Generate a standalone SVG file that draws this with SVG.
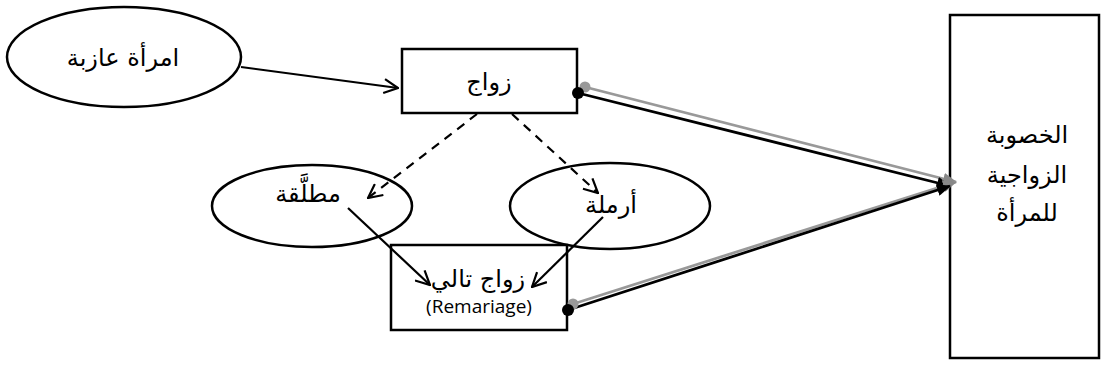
<svg xmlns="http://www.w3.org/2000/svg" width="1102" height="372" viewBox="0 0 1102 372">
  <style>
    .shape { fill: #fff; stroke: #000; stroke-width: 2.5; }
    .ar { font-family: "DejaVu Sans", "Noto Sans", sans-serif; font-size: 24px; fill: #000; text-anchor: middle; }
    .lat { font-family: "Open Sans", "Lato", sans-serif; font-size: 19px; fill: #000; text-anchor: middle; }
    .solid { stroke: #000; stroke-width: 2.2; fill: none; marker-end: url(#open); }
    .dash { stroke: #000; stroke-width: 2.2; fill: none; stroke-dasharray: 9 7; marker-end: url(#open); }
    .link-k { stroke: #000; stroke-width: 2.8; fill: none; marker-end: url(#tipK); }
    .link-g { stroke: #999; stroke-width: 2.8; fill: none; marker-end: url(#tipG); }
  </style>
  <defs>
    <marker id="open" viewBox="0 0 16 16" refX="15" refY="8" markerWidth="16" markerHeight="16" markerUnits="userSpaceOnUse" orient="auto">
      <path d="M1,1 L15,8 L1,15" fill="none" stroke="#000" stroke-width="2.2"/>
    </marker>
    <marker id="tipK" viewBox="0 0 14 12" refX="13" refY="6" markerWidth="14" markerHeight="12" markerUnits="userSpaceOnUse" orient="auto">
      <path d="M0,0 L14,6 L0,12 Z" fill="#000"/>
    </marker>
    <marker id="tipG" viewBox="0 0 14 12" refX="13" refY="6" markerWidth="14" markerHeight="12" markerUnits="userSpaceOnUse" orient="auto">
      <path d="M0,0 L14,6 L0,12 Z" fill="#888"/>
    </marker>
  </defs>

  <g id="single-woman">
    <ellipse class="shape" cx="124" cy="57" rx="117" ry="50"/>
    <text class="ar" x="123" y="66">امرأة عازبة</text>
  </g>

  <g id="marriage">
    <rect class="shape" x="402" y="49" width="175" height="64"/>
    <text class="ar" x="489" y="90">زواج</text>
  </g>

  <g id="divorced">
    <ellipse class="shape" cx="312" cy="206" rx="100" ry="41"/>
    <text class="ar" x="308" y="202">مطلَّقة</text>
  </g>

  <g id="widow">
    <ellipse class="shape" cx="610" cy="206" rx="100" ry="43"/>
    <text class="ar" x="611" y="213">أرملة</text>
  </g>

  <g id="remarriage">
    <rect class="shape" x="391" y="245" width="176" height="85"/>
    <text class="ar" x="478" y="287">زواج تالي</text>
    <text class="lat" x="479" y="313">(Remariage)</text>
  </g>

  <g id="fertility">
    <rect class="shape" x="950" y="15" width="149" height="343"/>
    <text class="ar" x="1027" y="143">الخصوبة</text>
    <text class="ar" x="1027" y="183">الزواجية</text>
    <text class="ar" x="1027" y="221">للمرأة</text>
  </g>

  <g id="connectors">
    <line class="solid" x1="241" y1="67" x2="398" y2="88"/>
    <line class="dash" x1="477" y1="114" x2="368" y2="198"/>
    <line class="dash" x1="512" y1="114" x2="598" y2="193"/>
    <line class="solid" x1="348" y1="208" x2="430" y2="285"/>
    <line class="solid" x1="603" y1="217" x2="532" y2="287"/>

    <!-- double links into the fertility box -->
    <line class="link-g" x1="585" y1="87" x2="956" y2="182"/>
    <line class="link-k" x1="578" y1="93" x2="950" y2="186"/>
    <line class="link-g" x1="573" y1="304" x2="956" y2="182"/>
    <line class="link-k" x1="568" y1="310" x2="950" y2="186"/>
    <circle cx="585" cy="87" r="5.5" fill="#999"/>
    <circle cx="578" cy="93" r="6" fill="#000"/>
    <circle cx="573" cy="304" r="5.5" fill="#999"/>
    <circle cx="568" cy="310" r="6" fill="#000"/>
  </g>
</svg>
